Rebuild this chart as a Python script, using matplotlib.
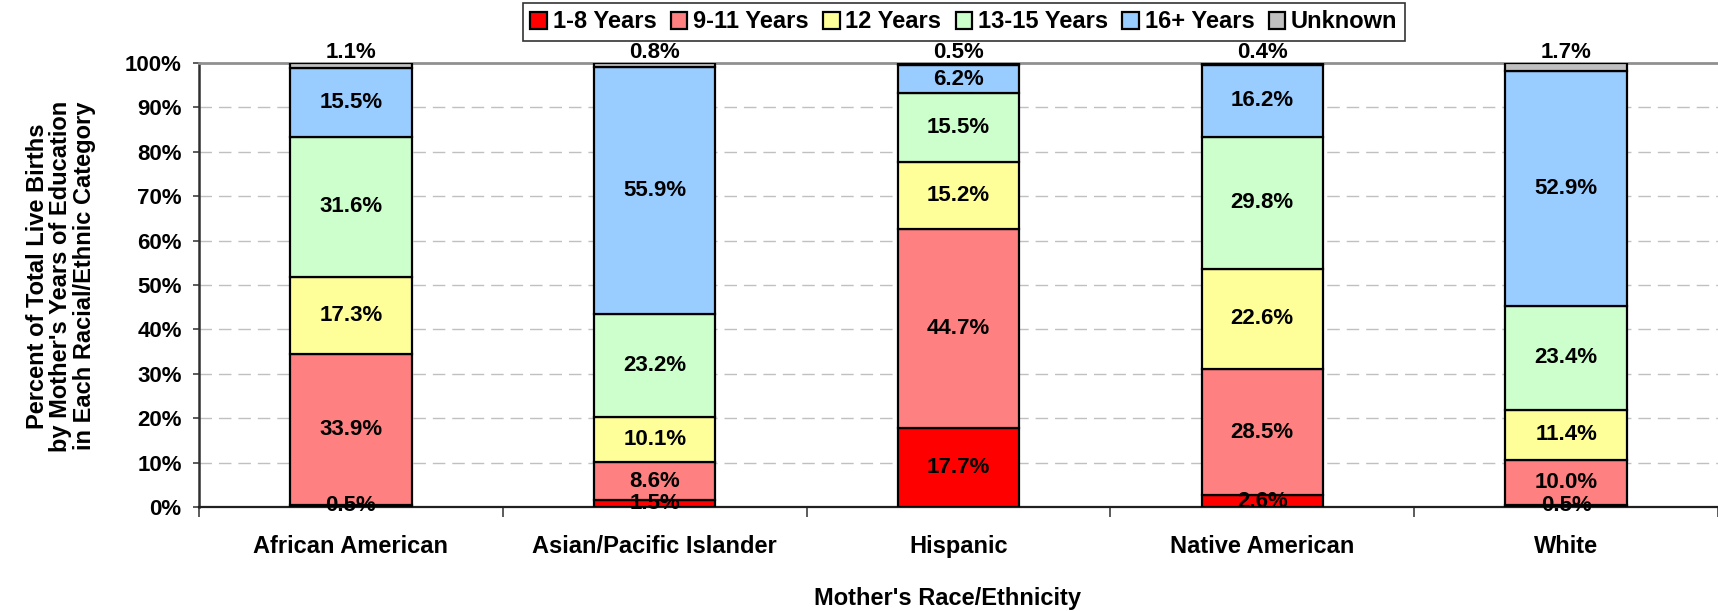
import matplotlib
matplotlib.use("Agg")
import matplotlib.pyplot as plt
import numpy as np

categories = ["African American", "Asian/Pacific Islander", "Hispanic", "Native American", "White"]
series_names = ["1-8 Years", "9-11 Years", "12 Years", "13-15 Years", "16+ Years", "Unknown"]
yrs_1_8 = [0.5, 1.5, 17.7, 2.6, 0.5]
yrs_9_11 = [33.9, 8.6, 44.7, 28.5, 10.0]
yrs_12 = [17.3, 10.1, 15.2, 22.6, 11.4]
yrs_13_15 = [31.6, 23.2, 15.5, 29.8, 23.4]
yrs_16p = [15.5, 55.9, 6.2, 16.2, 52.9]
unknown = [1.1, 0.8, 0.5, 0.4, 1.7]
yticks = [0, 10, 20, 30, 40, 50, 60, 70, 80, 90, 100]

colors = ["#FF0000", "#FF8080", "#FFFF99", "#CCFFCC", "#99CCFF", "#C0C0C0"]

plt.rcParams['font.family'] = ['Liberation Sans', 'DejaVu Sans']
plt.rcParams['font.weight'] = 'bold'

data = np.array([yrs_1_8, yrs_9_11, yrs_12, yrs_13_15, yrs_16p, unknown], dtype=float)
totals = data.sum(axis=0)
norm = data / totals * 100.0

W, H = 1718, 611
fig = plt.figure(figsize=(W / 100, H / 100), dpi=100)
ax = fig.add_axes([199 / W, 1 - 507 / H, 1 - 199 / W, (507 - 63) / H])

x = np.arange(len(categories))
bottom = np.zeros(len(categories))
handles = []
for i, name in enumerate(series_names):
    b = ax.bar(x, norm[i], 0.4, bottom=bottom, color=colors[i], edgecolor="black",
               linewidth=1.6, label=name, zorder=3)
    handles.append(b)
    for j in range(len(categories)):
        val = data[i, j]
        txt = f"{val:.1f}%"
        if i == len(series_names) - 1:
            ax.annotate(txt, (x[j], 100), xytext=(0, 7.5), textcoords="offset points",
                        ha="center", va="center", fontsize=16, fontweight="bold", zorder=4)
        else:
            ax.text(x[j], bottom[j] + norm[i, j] / 2, txt, ha="center", va="center",
                    fontsize=16, fontweight="bold", zorder=4)
    bottom += norm[i]

ax.set_xlim(-0.5, 4.49)
ax.set_ylim(0, 100)
ax.set_yticks(yticks)
ax.set_yticklabels([f"{t}%" for t in yticks], fontsize=16, fontweight="bold")
ax.tick_params(axis="y", length=4.5, width=1.2, color="#404040", pad=8)
for t in yticks[1:-1]:
    ax.axhline(t, color="#C0C0C0", lw=1, dashes=(9, 5), zorder=1)

ax.set_xticks(np.arange(-0.5, 4.6, 1.0))
ax.set_xticklabels([])
ax.tick_params(axis="x", which="major", length=7, width=1.2, color="#404040")
ax.set_xticks(x, minor=True)
ax.set_xticklabels(categories, minor=True, fontsize=17, fontweight="bold")
ax.tick_params(axis="x", which="minor", length=0, pad=20)

ax.spines["right"].set_visible(False)
ax.spines["top"].set_color("#909090")
ax.spines["top"].set_linewidth(2)
ax.spines["left"].set_color("#303030")
ax.spines["left"].set_linewidth(1.8)
ax.spines["bottom"].set_color("#202020")
ax.spines["bottom"].set_linewidth(1.6)

fig.text(948 / W, 1 - 598 / H, "Mother's Race/Ethnicity", ha="center", va="center",
         fontsize=17, fontweight="bold")
fig.text(61 / W, 1 - 276 / H,
         "Percent of Total Live Births\nby Mother's Years of Education\nin Each Racial/Ethnic Category",
         rotation=90, ha="center", va="center", multialignment="center",
         fontsize=17, fontweight="bold", linespacing=1.05)

leg = fig.legend(handles=handles, labels=series_names, loc="center",
                 bbox_to_anchor=(964 / W, 1 - 22 / H), ncol=6, frameon=True,
                 fontsize=17, handlelength=0.7, handleheight=0.7, handletextpad=0.25,
                 columnspacing=0.6, borderpad=0.3, fancybox=False)
leg.get_frame().set_edgecolor("black")
leg.get_frame().set_linewidth(1.2)
for t in leg.get_texts():
    t.set_fontweight("bold")

fig.savefig("out.png", dpi=100)
